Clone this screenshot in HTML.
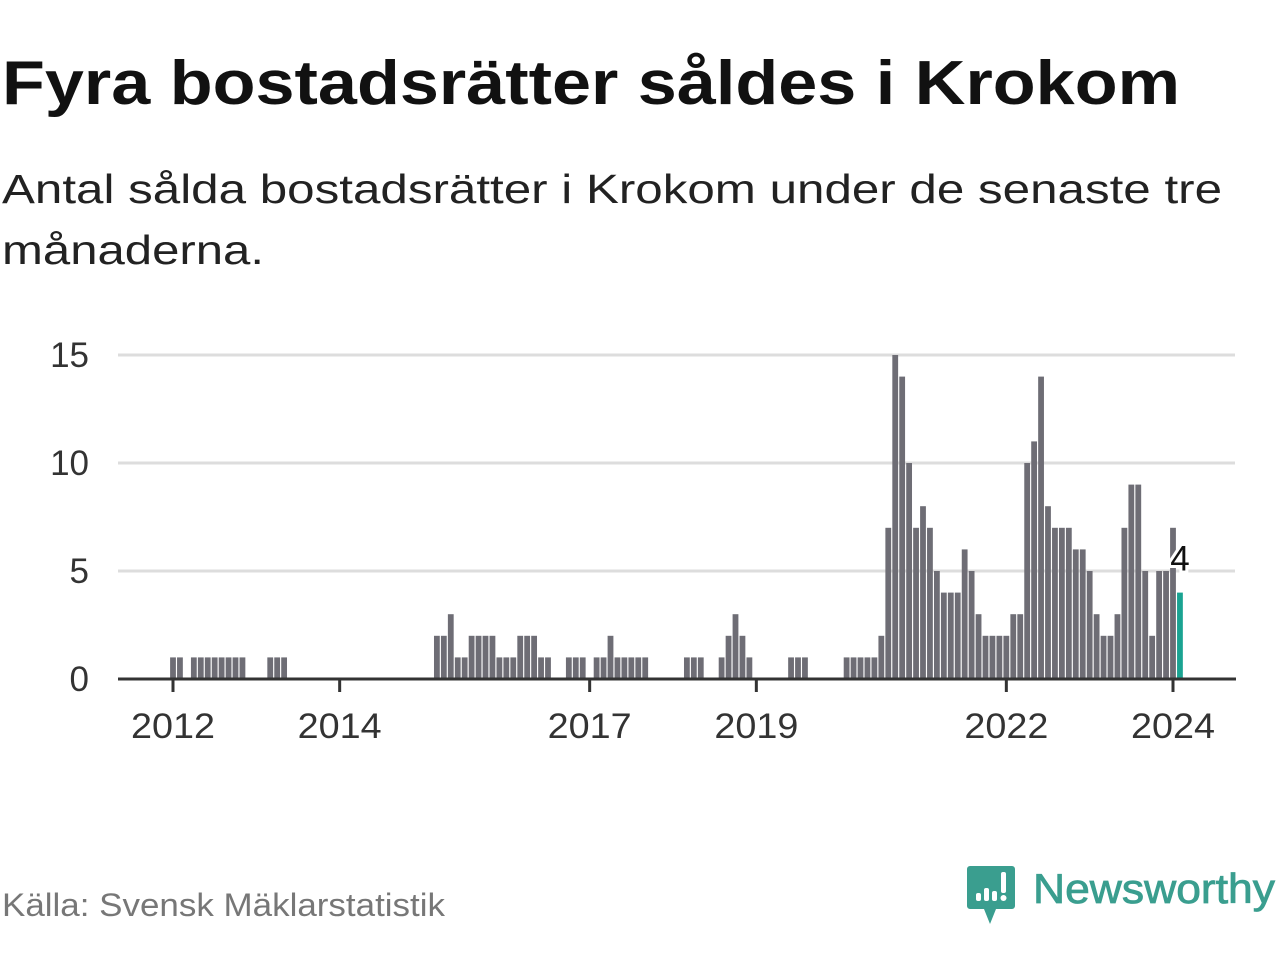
<!DOCTYPE html>
<html><head><meta charset="utf-8"><style>
html,body{margin:0;padding:0;background:#fff;}
svg{display:block;font-family:"Liberation Sans","DejaVu Sans",sans-serif;}
</style></head><body>
<svg id="chart" width="1280" height="960" viewBox="0 0 1280 960" xmlns="http://www.w3.org/2000/svg">
<text x="2" y="104" font-size="62" font-weight="bold" fill="#111" textLength="1178" lengthAdjust="spacingAndGlyphs">Fyra bostadsrätter såldes i Krokom</text>
<text x="2" y="203" font-size="41" fill="#222" textLength="1220" lengthAdjust="spacingAndGlyphs">Antal sålda bostadsrätter i Krokom under de senaste tre</text>
<text x="2" y="264" font-size="41" fill="#222" textLength="262" lengthAdjust="spacingAndGlyphs">månaderna.</text>
<g id="grid"></g>
<g id="bars"></g>
<g id="axis"></g>
<text x="2" y="916" font-size="32" fill="#777" textLength="443" lengthAdjust="spacingAndGlyphs">Källa: Svensk Mäklarstatistik</text>
<g>
<path d="M970 866 h42 a3 3 0 0 1 3 3 v37 a3 3 0 0 1 -3 3 h-16 l-6 15 l-6 -15 h-14 a3 3 0 0 1 -3 -3 v-37 a3 3 0 0 1 3 -3z" fill="#3a9e8f"/>
<rect x="976" y="893" width="5" height="8" rx="2" fill="#fff"/>
<rect x="984" y="888" width="5" height="13" rx="2" fill="#fff"/>
<rect x="992" y="891" width="5" height="10" rx="2" fill="#fff"/>
<rect x="1001" y="872" width="5" height="21" rx="2" fill="#fff"/>
<circle cx="1003.5" cy="898" r="3" fill="#fff"/>
<text x="1033" y="903" font-size="42" fill="#3a9e8f" stroke="#3a9e8f" stroke-width="0.8" textLength="242" lengthAdjust="spacingAndGlyphs">Newsworthy</text>
</g>
</svg>
<script>
const months = 146; // Jan 2012 .. Feb 2024
const values = [
1,1,0,1,1,1,1,1,1,1,1,0,
0,0,1,1,1,0,0,0,0,0,0,0,
0,0,0,0,0,0,0,0,0,0,0,0,
0,0,2,2,3,1,1,2,2,2,2,1,
1,1,2,2,2,1,1,0,0,1,1,1,
0,1,1,2,1,1,1,1,1,0,0,0,
0,0,1,1,1,0,0,1,2,3,2,1,
0,0,0,0,0,1,1,1,0,0,0,0,
0,1,1,1,1,1,2,7,15,14,10,7,
8,7,5,4,4,4,6,5,3,2,2,2,
2,3,3,10,11,14,8,7,7,7,6,6,
5,3,2,2,3,7,9,9,5,2,5,5,
7,4];
const yTicks = [0,5,10,15];
const xTickLabels = ["2012","2014","2017","2019","2022","2024"];
const xTickIndex = [0,24,60,84,120,144];

const NS="http://www.w3.org/2000/svg";
const x = i => 173 + i*(1000/144);
const y = v => 679 - v*21.6;
function mk(tag, attrs, parent){const e=document.createElementNS(NS,tag);for(const k in attrs)e.setAttribute(k,attrs[k]);parent.appendChild(e);return e;}
const grid=document.getElementById('grid'), bars=document.getElementById('bars'), axis=document.getElementById('axis');
yTicks.forEach(t=>{
  if(t>0){const l=mk('line',{x1:118,x2:1235,y1:y(t),y2:y(t),stroke:'#dddddd','stroke-width':3},grid);
  
  }
  const tx=mk('text',{x:89,y:y(t)+12,'font-size':35,fill:'#333','text-anchor':'end'},grid);
  tx.textContent=t;
  
  
});
values.forEach((v,i)=>{
  if(v<=0) return;
  const last=i===values.length-1;
  const r=mk('rect',{x:x(i)-2.9,y:y(v),width:5.8,height:679-y(v),fill:last?'#1aa392':'#6e6d75'},bars);
  
  
});
const ax=mk('line',{x1:118,x2:1236,y1:679,y2:679,stroke:'#333','stroke-width':3},axis);


xTickIndex.forEach((idx,k)=>{
  const tk=mk('line',{x1:x(idx),x2:x(idx),y1:679,y2:692,stroke:'#333','stroke-width':3},axis);
  
  
  const tl=mk('text',{x:x(idx),y:738,'font-size':35,fill:'#333','text-anchor':'middle',textLength:84,lengthAdjust:'spacingAndGlyphs'},axis);
  tl.textContent=xTickLabels[k];
  
  
});
const li=values.length-1;
const lbl=mk('text',{x:x(li),y:y(values[li])-22,'font-size':35,fill:'#111','text-anchor':'middle',stroke:'#fff','stroke-width':6,'paint-order':'stroke'},axis);
lbl.textContent=values[li];


</script>
</body></html>
